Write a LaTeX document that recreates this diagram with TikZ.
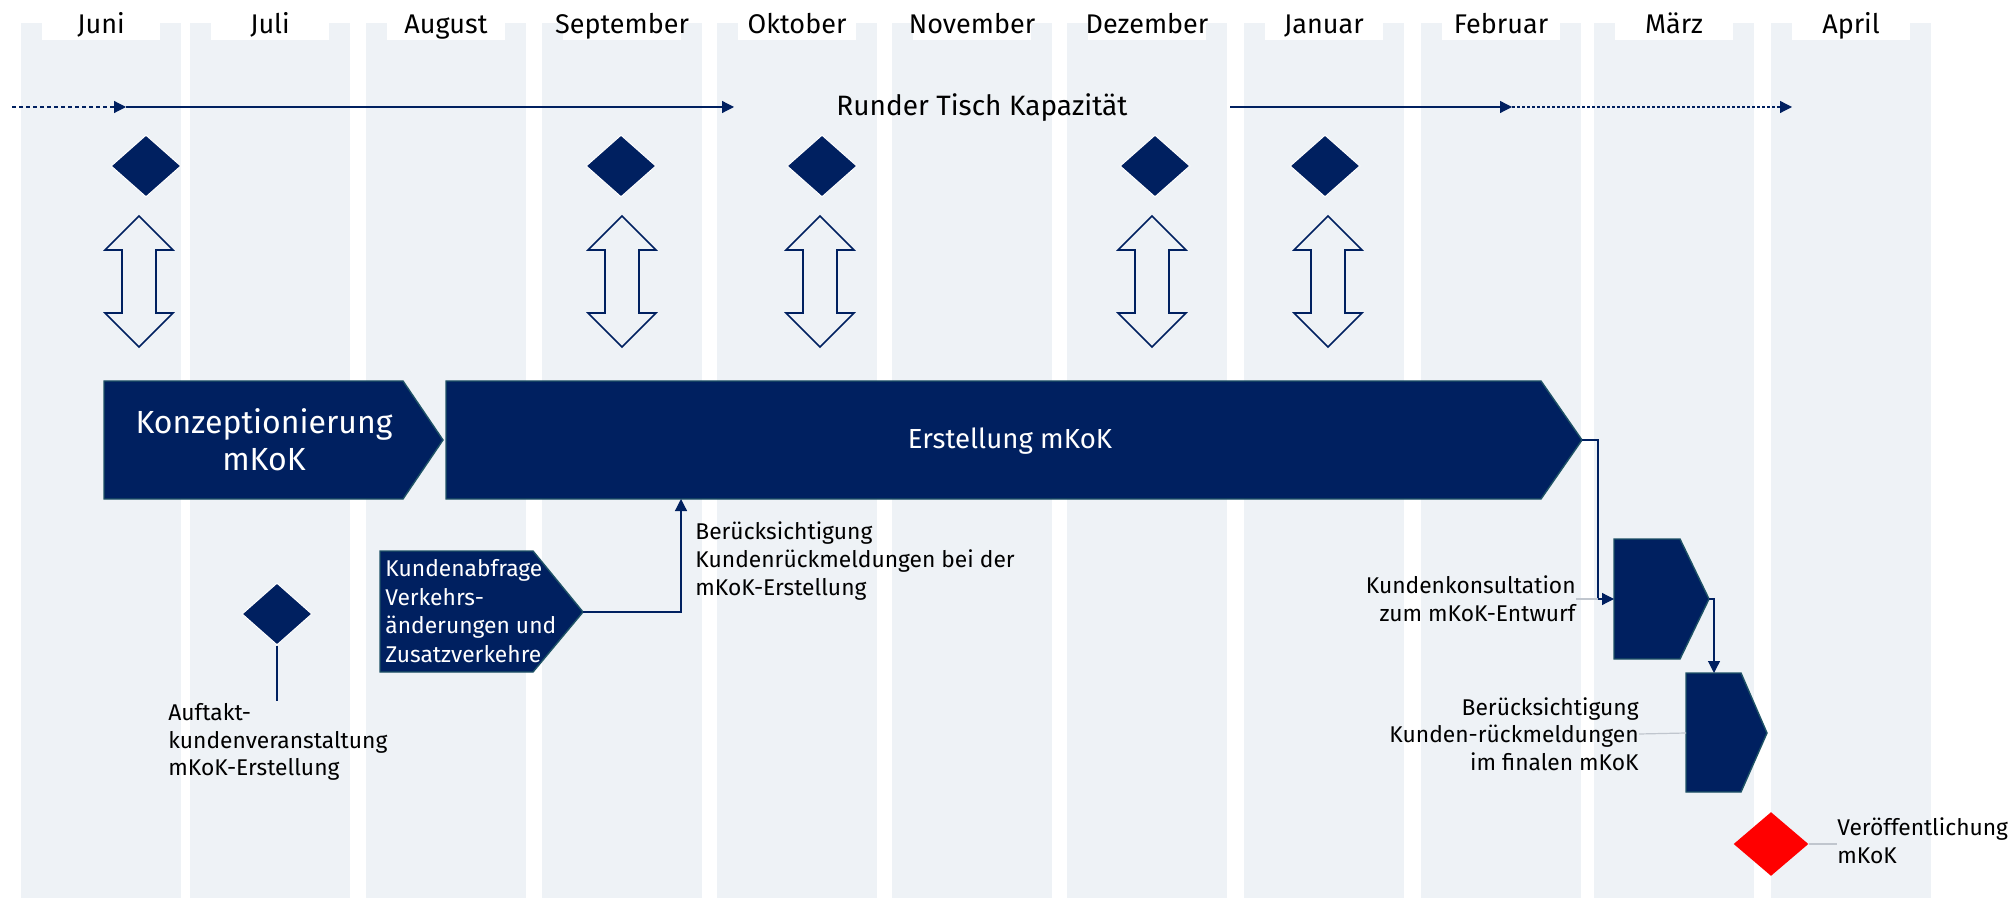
\documentclass[tikz,border=0pt]{standalone}
\usepackage{fontspec}
\setmainfont{Fira Sans}
\usetikzlibrary{shapes.geometric,arrows.meta}
\definecolor{navy}{RGB}{0,32,96}
\definecolor{colgray}{RGB}{238,242,246}
\definecolor{rimteal}{RGB}{30,82,102}
\definecolor{leadgray}{RGB}{192,198,206}

\begin{document}
\begin{tikzpicture}[x=0.5pt,y=-0.5pt,
	month/.style={font=\fontsize{13.5}{16}\selectfont, anchor=base, inner sep=0pt},
	milestone/.style={diamond, fill=navy, draw=white, line width=0.5pt, inner sep=0pt, minimum width=35pt, minimum height=31pt},
	phase/.style={fill=navy, draw=rimteal, line width=0.7pt},
	phasetext/.style={text=white, align=center, inner sep=0pt},
	note/.style={font=\fontsize{11.4}{13.8}\selectfont, inner sep=0pt},
	link/.style={draw=navy, line width=0.6pt, -{Triangle[length=6pt,width=6pt]}},
	leader/.style={draw=leadgray, line width=0.6pt},
	twoway/.style={draw=navy, line width=0.8pt}]
	\fill[white] (0,0) rectangle (2013,898);
	\useasboundingbox (0,0) rectangle (2013,898);
	%month columns
	\foreach \x/\mtext in {21/Juni, 190/Juli, 366/August, 542/September, 717/Oktober, 892/November, 1067/Dezember, 1244/Januar, 1421/Februar, 1594/März, 1771/April}
	{
		\fill[colgray] (\x,23) rectangle (\x+160,898);
		\fill[white] (\x+21,0) rectangle (\x+139,40);
		\node[month] (mon\x) at (\x+80,34) {\mtext};
	}
	%round table line
	\coordinate (rtA) at (12,107);
	\coordinate (rtB) at (126,107);
	\coordinate (rtC) at (734,107);
	\node[font=\fontsize{14}{16}\selectfont] (rtisch) at (982,108) {Runder Tisch Kapazität};
	\coordinate (rtD) at (1230,107);
	\coordinate (rtE) at (1512,107);
	\coordinate (rtF) at (1792,107);
	\draw[link, dash pattern=on 2pt off 1.5pt] (rtA) -- (rtB);
	\draw[link] (rtB) -- (rtC);
	\draw[link] (rtD) -- (rtE);
	\draw[link, dash pattern=on 1.5pt off 1pt] (rtE) -- (rtF);
	%milestones
	\foreach \x/\nm in {146/msJun, 621/msSep, 822/msOkt, 1155/msDez, 1325/msJan}
		\node[milestone] (\nm) at (\x,166) {};
	%two-way arrows
	\foreach \x in {139, 622, 820, 1152, 1328}
		\draw[twoway] (\x,216) -- (\x+34,250) -- (\x+17,250) -- (\x+17,313) -- (\x+34,313) -- (\x,347) -- (\x-34,313) -- (\x-17,313) -- (\x-17,250) -- (\x-34,250) -- cycle;
	%phases
	\draw[phase] (104,381) -- (403,381) -- (443,440) -- (403,499) -- (104,499) -- cycle;
	\node[phasetext, font=\fontsize{16}{18.5}\selectfont] (konz) at (264,440) {Konzeptionierung\\mKoK};
	\draw[phase] (446,381) -- (1541,381) -- (1582,440) -- (1541,499) -- (446,499) -- cycle;
	\node[phasetext, font=\fontsize{13.8}{16}\selectfont] (erst) at (1010,441) {Erstellung mKoK};
	\coordinate (erstTip) at (1582,440);
	\coordinate (erstS) at (681,499);
	\coordinate (erstBend) at (1598,440);
	\draw[phase] (380,551) -- (533,551) -- (583,612) -- (533,672) -- (380,672) -- cycle;
	\node[note, text=white, anchor=west, align=left, font=\fontsize{11.4}{14.3}\selectfont] (abf) at (385,611) {Kundenabfrage\\Verkehrs-\\änderungen und\\Zusatzverkehre};
	\coordinate (abfTip) at (583,612);
	\draw[phase] (1614,539) -- (1680,539) -- (1709,599) -- (1680,659) -- (1614,659) -- cycle;
	\coordinate (konsW) at (1614,599);
	\coordinate (konsTip) at (1709,599);
	\draw[phase] (1686,673) -- (1741,673) -- (1767,733) -- (1741,792) -- (1686,792) -- cycle;
	\coordinate (finN) at (1714,673);
	\coordinate (finW) at (1686,733);
	%kick-off and publication
	\node[milestone] (auftakt) at (277,614) {};
	\coordinate (auftaktEnd) at (277,701);
	\node[milestone, fill=red, draw=none, minimum width=37.5pt, minimum height=32pt] (veroeffMs) at (1771,844) {};
	%notes
	\node[note, anchor=west, align=left] (berueck) at (695,561) {Berücksichtigung\\Kundenrückmeldungen bei der\\mKoK-Erstellung};
	\node[note, anchor=west, align=left] (auftaktText) at (168,742) {Auftakt-\\kundenveranstaltung\\mKoK-Erstellung};
	\node[note, anchor=east, align=right] (konsText) at (1576,599) {Kundenkonsultation\\zum mKoK-Entwurf};
	\node[note, anchor=east, align=right] (finText) at (1639,734) {Berücksichtigung\\Kunden-rückmeldungen\\im finalen mKoK};
	\node[note, anchor=west, align=left] (veroeff) at (1837,841) {Veröffentlichung\\mKoK};
	%connections
	\draw[link] (abfTip) -| (erstS);
	\draw[link] (erstTip) -- (erstBend) |- (konsW);
	\draw[link] (konsTip) -| (finN);
	\draw[navy, line width=0.6pt] (auftakt.south) -- (auftaktEnd);
	\draw[leader] (konsText.east) -- (konsText.east -| erstBend);
	\draw[leader] (finText.east) -- (finW);
	\draw[leader] (veroeffMs.east) -- (veroeffMs.east -| veroeff.west);
\end{tikzpicture}
\end{document}
